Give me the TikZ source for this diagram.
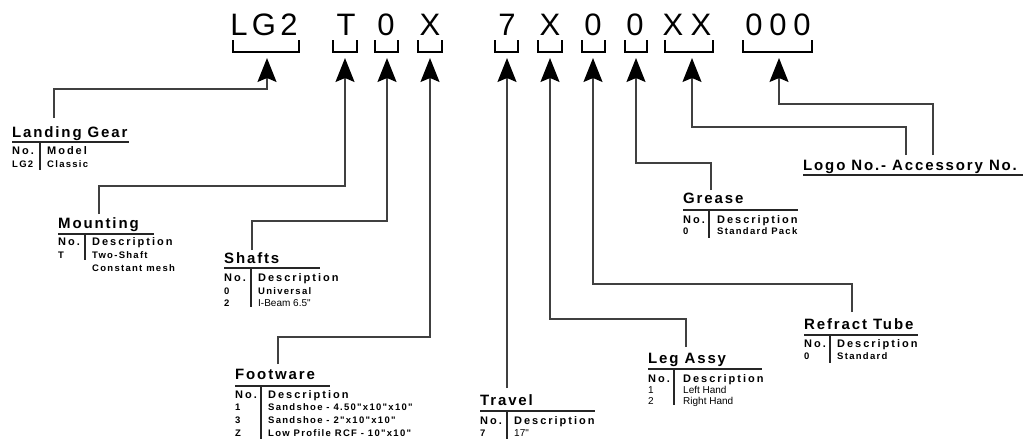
\documentclass[tikz,border=0pt]{standalone}
\usepackage{fontspec}
\usetikzlibrary{arrows.meta}
\newfontfamily\codefam{Liberation Sans}
\newfontfamily\ttlfam[LetterSpace=12.4]{Liberation Sans}
\newfontfamily\hdfam[LetterSpace=18]{Liberation Sans}
\newfontfamily\bdfam[LetterSpace=13.5]{Liberation Sans}
\newfontfamily\nrfam{Liberation Sans}
\begin{document}
\begin{tikzpicture}[x=1pt,y=-1pt,
  code/.style={font=\codefam\fontsize{31}{31}\selectfont,anchor=base,inner sep=0pt},
  ttl/.style={font=\ttlfam\bfseries\fontsize{15}{15}\selectfont,anchor=base west,inner sep=0pt},
  hd/.style={font=\hdfam\bfseries\fontsize{11}{11}\selectfont,anchor=base west,inner sep=0pt},
  bd/.style={font=\bdfam\bfseries\fontsize{9.5}{9.5}\selectfont,anchor=base west,inner sep=0pt},
  nr/.style={font=\nrfam\fontsize{10}{10}\selectfont,anchor=base west,inner sep=0pt},
  rul/.style={line width=1.4pt,black!85},
  brk/.style={line width=2.4pt,black},
  conn/.style={line width=1.3pt,black!75,-{Stealth[length=24pt,width=19pt,inset=4pt,black]}},
  plain/.style={line width=1.3pt,black!75}]
\useasboundingbox (0,0) rectangle (1025,439);
% code characters
\node[code] (c1) at (239,35) {L};
\node[code] (c2) at (264,35) {G};
\node[code] (c3) at (289,35) {2};
\node[code] (c4) at (346,35) {T};
\node[code] (c5) at (386,35) {0};
\node[code] (c6) at (430,35) {X};
\node[code] (c7) at (507,35) {7};
\node[code] (c8) at (550,35) {X};
\node[code] (c9) at (593,35) {0};
\node[code] (c10) at (635,35) {0};
\node[code] (c11) at (673,35) {X};
\node[code] (c12) at (701,35) {X};
\node[code] (c13) at (754,35) {0};
\node[code] (c14) at (778,35) {0};
\node[code] (c15) at (802,35) {0};
% brackets
\foreach \a/\b in {233/299,333/357,375/398,418/442,495/518,538/562,582/605,625/647,665/713,743/812}
  \draw[brk] (\a,40) |- (\b,52) -- (\b,40);
% arrow tips
\coordinate (aLG) at (267,58);
\coordinate (aT) at (345,58);
\coordinate (aSh) at (387,58);
\coordinate (aFo) at (430,58);
\coordinate (aTr) at (507,58);
\coordinate (aLe) at (550,58);
\coordinate (aRe) at (593,58);
\coordinate (aGr) at (636,58);
\coordinate (aXX) at (692,58);
\coordinate (aAc) at (779,58);
% bends
\coordinate (bLG) at (267,89);
\coordinate (bT) at (345,186);
\coordinate (bSh) at (387,221);
\coordinate (bFo) at (430,337);
\coordinate (bLe) at (550,319);
\coordinate (bRe) at (593,284);
\coordinate (bGr) at (636,163);
\coordinate (bXX) at (692,127);
\coordinate (bAc) at (779,104);
% connector ends
\coordinate (eLG) at (54,118);
\coordinate (eT) at (99,214);
\coordinate (eSh) at (252,250);
\coordinate (eFo) at (278,364);
\coordinate (eTr) at (507,388);
\coordinate (eLe) at (686,347);
\coordinate (eRe) at (852,312);
\coordinate (eGr) at (711,190);
\coordinate (eXX) at (906,155);
\coordinate (eAc) at (933,155);
\draw[conn] (eLG) |- (bLG) -- (aLG);
\draw[conn] (eT) |- (bT) -- (aT);
\draw[conn] (eSh) |- (bSh) -- (aSh);
\draw[conn] (eFo) |- (bFo) -- (aFo);
\draw[conn] (eTr) -- (aTr);
\draw[conn] (eLe) |- (bLe) -- (aLe);
\draw[conn] (eRe) |- (bRe) -- (aRe);
\draw[conn] (eGr) |- (bGr) -- (aGr);
\draw[conn] (eXX) |- (bXX) -- (aXX);
\draw[conn] (eAc) |- (bAc) -- (aAc);
% Landing Gear
\node[ttl] (tLG) at (12,137) {Landing Gear};
\draw[rul] (12,142) -- (129,142);
\draw[rul] (40,142) -- (40,170);
\node[hd] at (12,154) {No.};
\node[hd] at (47,154) {Model};
\node[bd] at (12,167) {LG2};
\node[bd] at (47,167) {Classic};
% Mounting
\node[ttl] (tMo) at (58,228) {Mounting};
\draw[rul] (58,234) -- (154,234);
\draw[rul] (85,234) -- (85,260);
\node[hd] at (58,245) {No.};
\node[hd] at (92,245) {Description};
\node[bd] at (58,258) {T};
\node[bd] at (92,258) {Two-Shaft};
\node[bd] at (92,271) {Constant mesh};
% Shafts
\node[ttl] (tSh) at (224,263) {Shafts};
\draw[rul] (224,268) -- (320,268);
\draw[rul] (251,268) -- (251,307);
\node[hd] at (224,281) {No.};
\node[hd] at (258,281) {Description};
\node[bd] at (224,294) {0};
\node[bd] at (258,294) {Universal};
\node[bd] at (224,306) {2};
\node[nr] at (258,306) {I-Beam 6.5"};
% Footware
\node[ttl] (tFo) at (235,379) {Footware};
\draw[rul] (235,386) -- (330,386);
\draw[rul] (261,386) -- (261,439);
\node[hd] at (235,398) {No.};
\node[hd] at (268,398) {Description};
\node[bd] at (235,410) {1};
\node[bd] at (268,410) {Sandshoe - 4.50"x10"x10"};
\node[bd] at (235,423) {3};
\node[bd] at (268,423) {Sandshoe - 2"x10"x10"};
\node[bd] at (235,436) {Z};
\node[bd] at (268,436) {Low Profile RCF - 10"x10"};
% Travel
\node[ttl] (tTr) at (480,405) {Travel};
\draw[rul] (480,411) -- (595,411);
\draw[rul] (507,411) -- (507,439);
\node[hd] at (480,424) {No.};
\node[hd] at (514,424) {Description};
\node[bd] at (480,436) {7};
\node[nr] at (514,436) {17"};
% Leg Assy
\node[ttl] (tLe) at (648,363) {Leg Assy};
\draw[rul] (648,369) -- (762,369);
\draw[rul] (674,369) -- (674,405);
\node[hd] at (648,382) {No.};
\node[hd] at (683,382) {Description};
\node[nr] at (648,393) {1};
\node[nr] at (683,393) {Left Hand};
\node[nr] at (648,404) {2};
\node[nr] at (683,404) {Right Hand};
% Grease
\node[ttl] (tGr) at (683,203) {Grease};
\draw[rul] (683,210) -- (798,210);
\draw[rul] (709,210) -- (709,238);
\node[hd] at (683,223) {No.};
\node[hd] at (717,223) {Description};
\node[bd] at (683,234) {0};
\node[bd] at (717,234) {Standard Pack};
% Refract Tube
\node[ttl] (tRe) at (804,329) {Refract Tube};
\draw[rul] (804,335) -- (918,335);
\draw[rul] (830,335) -- (830,363);
\node[hd] at (804,347) {No.};
\node[hd] at (837,347) {Description};
\node[bd] at (804,359) {0};
\node[bd] at (837,359) {Standard};
% Logo / Accessory
\node[ttl] (tAc) at (803,170) {Logo No.- Accessory No.};
\draw[rul] (803,175) -- (1023,175);
\end{tikzpicture}
\end{document}
